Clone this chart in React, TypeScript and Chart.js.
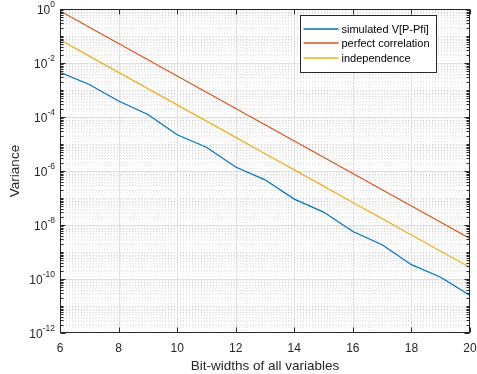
import React, { useEffect, useRef } from 'react';
import { Chart, registerables } from 'chart.js';

Chart.register(...registerables);

const bitWidths = [6, 7, 8, 9, 10, 11, 12, 13, 14, 15, 16, 17, 18, 19, 20];
const simulated = [4.5e-3, 1.6e-3, 3.9e-4, 1.24e-4, 2.2e-5, 7.6e-6, 1.4e-6, 4.7e-7, 9.1e-8, 3.0e-8, 5.7e-9, 1.85e-9, 3.4e-10, 1.17e-10, 2.45e-11];
const perfectCorrelation = [0.85, 0.2125, 0.0531, 0.01328, 3.32e-3, 8.3e-4, 2.08e-4, 5.19e-5, 1.3e-5, 3.24e-6, 8.11e-7, 2.03e-7, 5.07e-8, 1.27e-8, 3.17e-9];
const independence = [0.072, 0.018, 4.5e-3, 1.125e-3, 2.81e-4, 7.03e-5, 1.76e-5, 4.39e-6, 1.1e-6, 2.75e-7, 6.87e-8, 1.72e-8, 4.29e-9, 1.07e-9, 2.68e-10];
const seriesNames = ['simulated V[P-Pfi]', 'perfect correlation', 'independence'];
const seriesColors = ['#0072BD', '#D95319', '#EDB120'];
const xTickValues = [6, 8, 10, 12, 14, 16, 18, 20];
const yTickExponents = [-12, -10, -8, -6, -4, -2, 0];
const xTitle = 'Bit-widths of all variables';
const yTitle = 'Variance';

const FONT = '"Liberation Sans", Arial, Helvetica, sans-serif';
const AX = '#262626';

const matlabPlugin = {
  id: 'matlabAxes',
  beforeDatasetsDraw(chart: any) {
    const { ctx, chartArea: a, scales } = chart;
    const xs = scales.x, ys = scales.y;
    ctx.save();
    ctx.beginPath();
    ctx.rect(a.left, a.top, a.right - a.left, a.bottom - a.top);
    ctx.clip();
    ctx.lineWidth = 1;
    ctx.setLineDash([1, 2]);
    ctx.strokeStyle = 'rgba(0,0,0,0.09)';
    for (let i = 60; i <= 200; i++) {
      if (i % 20 === 0) continue;
      const px = Math.round(xs.getPixelForValue(i / 10)) + 0.5;
      ctx.beginPath();
      ctx.moveTo(px, a.top);
      ctx.lineTo(px, a.bottom);
      ctx.stroke();
    }
    ctx.strokeStyle = 'rgba(0,0,0,0.12)';
    for (let e = -12; e < 0; e++) {
      for (let m = 1; m <= 9; m++) {
        if (m === 1 && e % 2 === 0) continue;
        const py = Math.round(ys.getPixelForValue(m * Math.pow(10, e))) + 0.5;
        ctx.beginPath();
        ctx.moveTo(a.left, py);
        ctx.lineTo(a.right, py);
        ctx.stroke();
      }
    }
    ctx.setLineDash([]);
    ctx.strokeStyle = '#dfdfdf';
    for (const v of xTickValues) {
      const px = Math.round(xs.getPixelForValue(v)) + 0.5;
      ctx.beginPath();
      ctx.moveTo(px, a.top);
      ctx.lineTo(px, a.bottom);
      ctx.stroke();
    }
    for (const e of yTickExponents) {
      const py = Math.round(ys.getPixelForValue(Math.pow(10, e))) + 0.5;
      ctx.beginPath();
      ctx.moveTo(a.left, py);
      ctx.lineTo(a.right, py);
      ctx.stroke();
    }
    ctx.restore();
  },
  afterDatasetsDraw(chart: any) {
    const { ctx, chartArea: a, scales } = chart;
    const xs = scales.x, ys = scales.y;
    ctx.save();
    ctx.strokeStyle = AX;
    ctx.lineWidth = 1;
    ctx.setLineDash([]);
    const L = Math.round(a.left) + 0.5, R = Math.round(a.right) - 0.5;
    const T = Math.round(a.top) + 0.5, B = Math.round(a.bottom) - 0.5;
    ctx.strokeRect(L, T, R - L, B - T);
    for (const v of xTickValues) {
      const px = Math.round(xs.getPixelForValue(v)) + 0.5;
      ctx.beginPath();
      ctx.moveTo(px, B); ctx.lineTo(px, B - 5);
      ctx.moveTo(px, T); ctx.lineTo(px, T + 5);
      ctx.stroke();
    }
    for (let e = -12; e <= 0; e++) {
      for (let m = 1; m <= 9; m++) {
        if (e === 0 && m > 1) continue;
        const major = m === 1 && e % 2 === 0;
        const len = major ? 5 : 3;
        const py = Math.round(ys.getPixelForValue(m * Math.pow(10, e))) + 0.5;
        ctx.beginPath();
        ctx.moveTo(L, py); ctx.lineTo(L + len, py);
        ctx.moveTo(R, py); ctx.lineTo(R - len, py);
        ctx.stroke();
      }
    }
    ctx.fillStyle = AX;
    ctx.textBaseline = 'middle';
    ctx.textAlign = 'left';
    for (const e of yTickExponents) {
      const py = ys.getPixelForValue(Math.pow(10, e));
      const exp = e === 0 ? '0' : '-' + String(-e);
      ctx.font = `12px ${FONT}`;
      const wb = ctx.measureText('10').width;
      ctx.font = `8.5px ${FONT}`;
      const we = ctx.measureText(exp).width;
      const right = 55;
      const x0 = right - we - wb;
      ctx.font = `12px ${FONT}`;
      ctx.fillText('10', x0, py + 1.5);
      ctx.font = `8.5px ${FONT}`;
      ctx.fillText(exp, x0 + wb, py - 4);
    }
    const lx = 300.5, ly = 15.5, lw = 136, lh = 57;
    ctx.fillStyle = '#ffffff';
    ctx.fillRect(lx, ly, lw, lh);
    ctx.strokeStyle = AX;
    ctx.lineWidth = 1;
    ctx.strokeRect(lx, ly, lw, lh);
    ctx.font = `11px ${FONT}`;
    ctx.textBaseline = 'middle';
    for (let i = 0; i < seriesNames.length; i++) {
      const cy = Math.round(ly + 13 + i * 14.5);
      ctx.strokeStyle = seriesColors[i];
      ctx.lineWidth = 1.3;
      ctx.beginPath();
      ctx.moveTo(lx + 3, cy);
      ctx.lineTo(lx + 38, cy);
      ctx.stroke();
      ctx.fillStyle = '#000000';
      ctx.fillText(seriesNames[i], lx + 41, cy + 0.5);
    }
    ctx.restore();
  },
};

export default function App() {
  const canvasRef = useRef<HTMLCanvasElement | null>(null);
  useEffect(() => {
    document.body.style.margin = '0';
    const canvas = canvasRef.current;
    if (!canvas) return;
    const series = [simulated, perfectCorrelation, independence];
    const chart = new Chart(canvas, {
      type: 'line',
      data: {
        datasets: series.map((vals, i) => ({
          label: seriesNames[i],
          data: bitWidths.map((b, j) => ({ x: b, y: vals[j] })),
          borderColor: seriesColors[i],
          backgroundColor: seriesColors[i],
          borderWidth: 1.2,
          pointRadius: 0,
          tension: 0,
          fill: false,
        })),
      },
      options: {
        responsive: false,
        animation: false,
        events: [],
        layout: { padding: { left: 0, right: 7, top: 9, bottom: 0 } },
        plugins: { legend: { display: false }, tooltip: { enabled: false } },
        scales: {
          x: {
            type: 'linear',
            min: 6,
            max: 20,
            afterBuildTicks: (s: any) => { s.ticks = xTickValues.map((v) => ({ value: v })); },
            afterFit: (s: any) => { s.height = 41; s.paddingLeft = 0; s.paddingRight = 0; },
            grid: { display: false, drawTicks: false },
            border: { display: false },
            ticks: { font: { family: FONT, size: 12 }, color: AX, padding: 8, maxRotation: 0, autoSkip: false },
            title: { display: true, text: xTitle, font: { family: FONT, size: 13.5 }, color: AX, padding: { top: 0, bottom: 0 } },
          },
          y: {
            type: 'logarithmic',
            min: 1e-12,
            max: 1,
            afterBuildTicks: (s: any) => { s.ticks = yTickExponents.map((e) => ({ value: Math.pow(10, e) })); },
            afterFit: (s: any) => { s.width = 60; s.paddingTop = 0; s.paddingBottom = 0; },
            grid: { display: false, drawTicks: false },
            border: { display: false },
            ticks: { display: false },
            title: { display: true, text: yTitle, font: { family: FONT, size: 13.5 }, color: AX, padding: { top: 7, bottom: 0 } },
          },
        },
      },
      plugins: [matlabPlugin],
    } as any);
    return () => chart.destroy();
  }, []);
  return <canvas ref={canvasRef} width={477} height={374} style={{ display: 'block', width: 477, height: 374 }} />;
}
